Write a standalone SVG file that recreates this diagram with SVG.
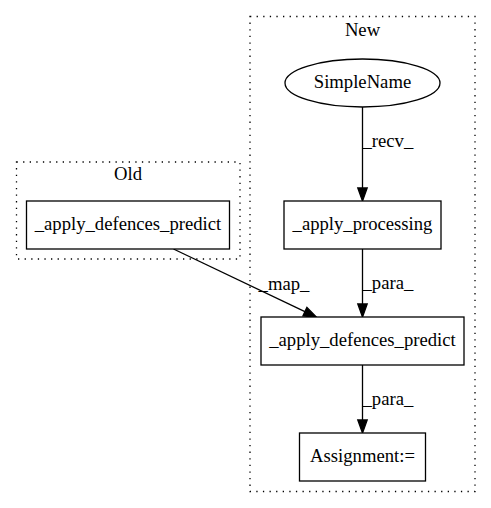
<svg xmlns="http://www.w3.org/2000/svg" width="491" height="508" viewBox="0 0 491 508">
<style>
text{font-family:"Liberation Serif","Times New Roman",serif;font-size:18.67px;fill:#000}
.c{text-anchor:middle}
.cl{fill:none;stroke:#000;stroke-width:1.3;stroke-dasharray:1.3,5.3}
.n{fill:#fff;stroke:#000;stroke-width:1.3}
.e{fill:none;stroke:#000;stroke-width:1.3}
.h{fill:#000;stroke:#000;stroke-width:1.3}
</style>
<rect width="491" height="508" fill="#fff"/>
<g id="cluster_old">
<rect class="cl" x="16.5" y="162" width="223.5" height="97"/>
<text class="c" x="128" y="180">Old</text>
</g>
<g id="cluster_new">
<rect class="cl" x="250" y="16.5" width="225" height="475"/>
<text class="c" x="362.5" y="35.5">New</text>
</g>
<g id="edges">
<path class="e" d="M362.5,107 L362.5,188"/>
<polygon class="h" points="357.8,188 362.5,201 367.2,188"/>
<text x="362.5" y="147">_recv_</text>
<path class="e" d="M362.5,249 L362.5,304"/>
<polygon class="h" points="357.8,304 362.5,317 367.2,304"/>
<text x="362.5" y="289">_para_</text>
<path class="e" d="M362.5,365 L362.5,420"/>
<polygon class="h" points="357.8,420 362.5,433 367.2,420"/>
<text x="362.5" y="405">_para_</text>
<path class="e" d="M173.5,249 L304.9,311.7"/>
<polygon class="h" points="302.9,315.9 316.7,317.3 306.9,307.4"/>
<text class="c" x="284" y="290">_map_</text>
</g>
<g id="node_old_predict">
<rect class="n" x="26.5" y="201" width="203" height="48"/>
<text class="c" x="128" y="230">_apply_defences_predict</text>
</g>
<g id="node_simplename">
<ellipse class="n" cx="362.5" cy="83" rx="77.5" ry="24"/>
<text class="c" x="362.5" y="88">SimpleName</text>
</g>
<g id="node_processing">
<rect class="n" x="284" y="201" width="157" height="48"/>
<text class="c" x="362.5" y="230">_apply_processing</text>
</g>
<g id="node_new_predict">
<rect class="n" x="261" y="317" width="203" height="48"/>
<text class="c" x="362.5" y="346">_apply_defences_predict</text>
</g>
<g id="node_assignment">
<rect class="n" x="299.5" y="433" width="126" height="48"/>
<text class="c" x="362.5" y="462">Assignment:=</text>
</g>
</svg>
